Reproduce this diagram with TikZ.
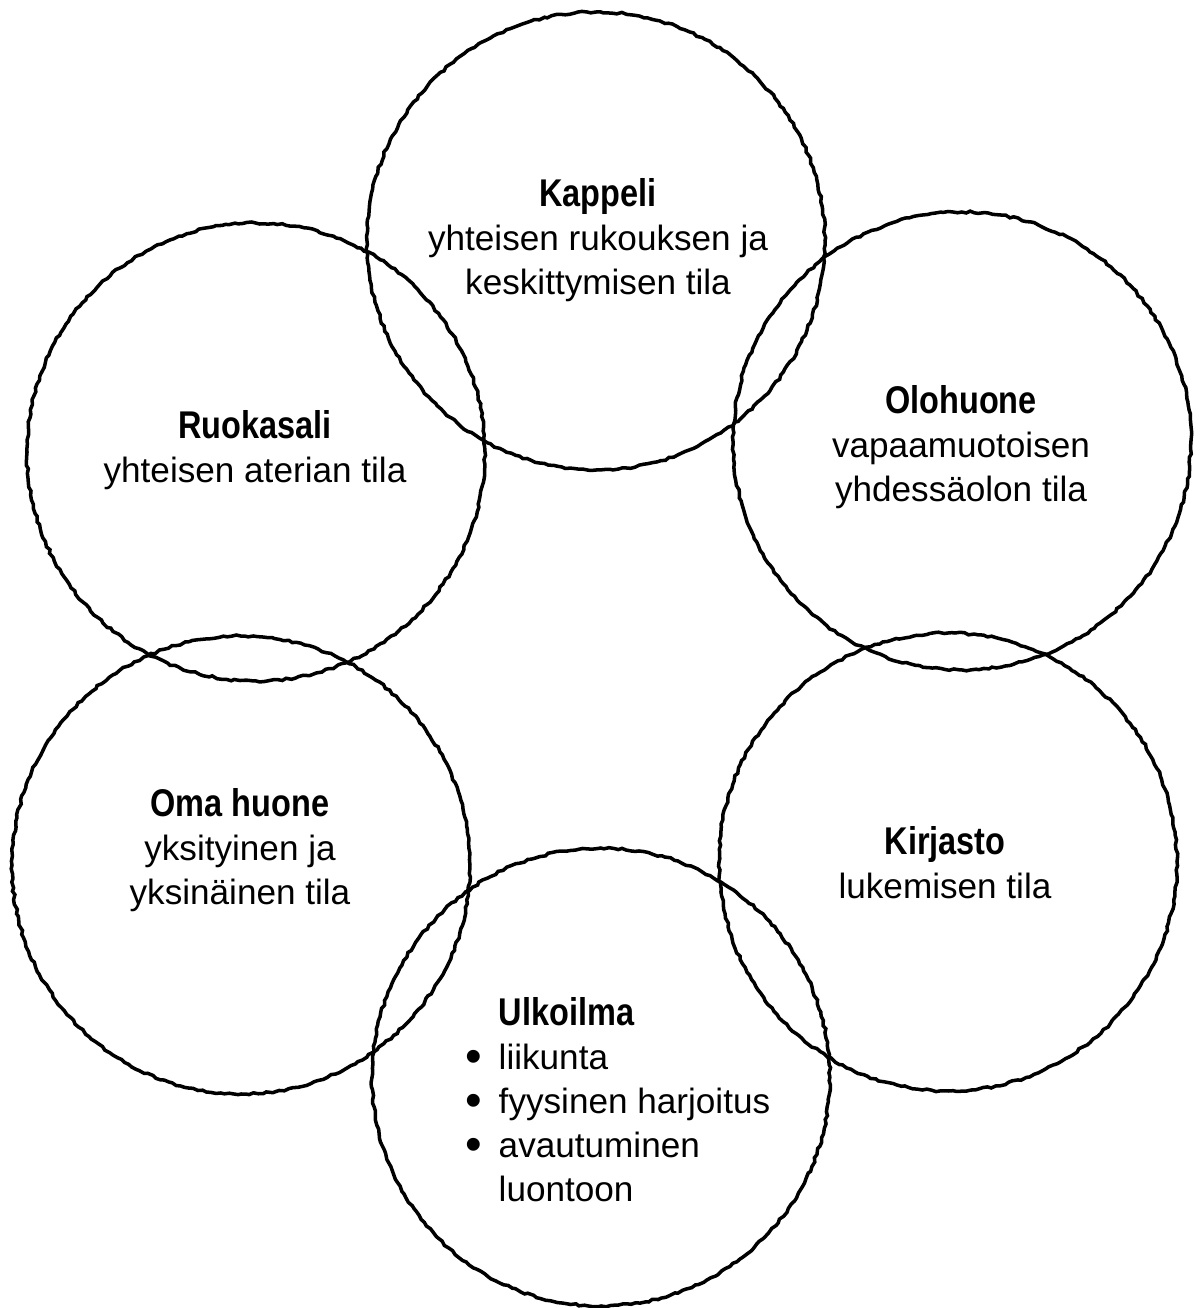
\documentclass[tikz,border=0pt]{standalone}
\usepackage{fontspec}
\setmainfont{Liberation Sans}[BoldFeatures={FakeStretch=0.84}]
\usetikzlibrary{decorations.pathmorphing}
\newcommand{\itembullet}{\makebox[0.95em][l]{\raisebox{-0.08em}{\fontsize{27pt}{25pt}\selectfont\textbullet}}}

\begin{document}
\begin{tikzpicture}[x=0.02cm,y=-0.02cm]
        \tikzstyle{room}=[circle,draw=black,line width=2pt,minimum size=9.16cm,inner sep=0pt,decorate,decoration={random steps,segment length=2.5pt,amplitude=0.6pt}]
        \tikzstyle{caption}=[align=center,inner sep=0pt,font=\fontsize{20pt}{25pt}\selectfont]
        \useasboundingbox (0,0) rectangle (1201,1308);
       \begin{scope}

         \node [room] (kappeli) at (596,241) {};
         \node [room] (olohuone) at (962,441) {};
         \node [room] (kirjasto) at (948,862) {};
         \node [room] (ulkoilma) at (601,1077) {};
         \node [room] (omahuone) at (241,865) {};
         \node [room] (ruokasali) at (256,452) {};

         \node [caption] (t-kappeli) at (598,240) {{\fontsize{22pt}{25pt}\selectfont\textbf{Kappeli}}\\yhteisen rukouksen ja\\keskittymisen tila};
         \node [caption] (t-olohuone) at (961,447) {{\fontsize{22pt}{25pt}\selectfont\textbf{Olohuone}}\\vapaamuotoisen\\yhdessäolon tila};
         \node [caption] (t-kirjasto) at (945,863) {{\fontsize{22pt}{25pt}\selectfont\textbf{Kirjasto}}\\lukemisen tila};
         \node [caption,align=left,anchor=west] (t-ulkoilma) at (465,1100) {\hspace*{0.95em}{\fontsize{22pt}{25pt}\selectfont\textbf{Ulkoilma}}\\\itembullet liikunta\\\itembullet fyysinen harjoitus\\\itembullet avautuminen\\\hspace*{0.95em}luontoon};
         \node [caption] (t-omahuone) at (240,850) {{\fontsize{22pt}{25pt}\selectfont\textbf{Oma huone}}\\yksityinen ja\\yksinäinen tila};
         \node [caption] (t-ruokasali) at (255,450) {{\fontsize{22pt}{25pt}\selectfont\textbf{Ruokasali}}\\yhteisen aterian tila};

        \end{scope}
\end{tikzpicture}
\end{document}
